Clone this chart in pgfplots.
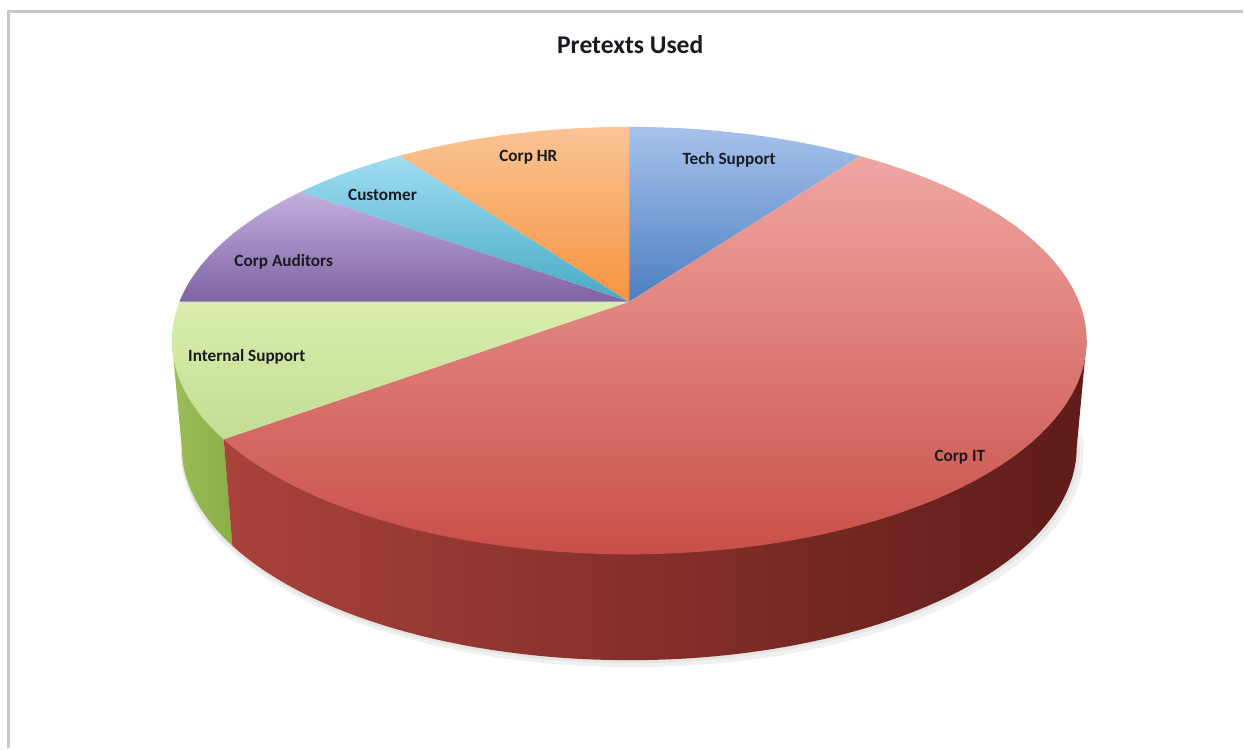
\documentclass[border=0pt]{standalone}
\usepackage{pgfplots}
\pgfplotsset{compat=1.18}
\usepackage{fontspec}
\setmainfont{Carlito}
\definecolor{frame}{HTML}{C8C8C8}
\definecolor{techT}{HTML}{A7C2EC}
\definecolor{techB}{HTML}{4A7FC0}
\definecolor{itT}{HTML}{F0A6A3}
\definecolor{itM}{HTML}{E07D77}
\definecolor{itB}{HTML}{C94F48}
\definecolor{itSL}{HTML}{A9423B}
\definecolor{itSM}{HTML}{7E2926}
\definecolor{itSR}{HTML}{5F1C19}
\definecolor{inT}{HTML}{D9EEAD}
\definecolor{inB}{HTML}{C3DD93}
\definecolor{inSL}{HTML}{9CBD58}
\definecolor{inSR}{HTML}{8BAF47}
\definecolor{auT}{HTML}{C2B0DF}
\definecolor{auB}{HTML}{7F62A2}
\definecolor{cuT}{HTML}{A0DDF1}
\definecolor{cuB}{HTML}{47AAC6}
\definecolor{hrT}{HTML}{FAC495}
\definecolor{hrB}{HTML}{F6943F}
\definecolor{txt}{HTML}{1A1A22}
\begin{document}
\begin{tikzpicture}
\begin{axis}[hide axis, scale only axis, width=622pt, height=374.5pt,
  xmin=0, xmax=1244, ymin=0, ymax=749, y dir=reverse, clip=false]
% background and frame
\addplot[draw=none, fill=white] coordinates {(0,0) (1244,0) (1244,749) (0,749)} -- cycle;
\addplot[draw=frame, line width=1.5pt] coordinates {(9,749) (9,12) (1244,12)};
% soft shadow
\addplot[draw=none, fill=black!6, domain=175:365, samples=80, variable=\t]
  ({633+452*cos(\t)},{453-215*sin(\t)}) -- cycle;
\addplot[draw=none, fill=black!10, domain=178:362, samples=80, variable=\t]
  ({631+450*cos(\t)},{450-214*sin(\t)}) -- cycle;
% side walls (slice boundary angles 207.5 and 360)
\addplot[draw=none, left color=inSL, right color=inSR, domain=180:207.5, samples=20, variable=\t]
  ({630+448*cos(\t)},{448-213*sin(\t)}) -- (224,440) -- (172,341) -- cycle;
\addplot[draw=none, left color=itSL, middle color=itSM, right color=itSR, domain=207.5:360, samples=80, variable=\t]
  ({630+448*cos(\t)},{448-213*sin(\t)}) -- (1088,341) -- (224,440) -- cycle;
% top faces: slice boundaries (parametric angles) 90, 59.7, -152.5, 169.5, 135.9, 120.1
\addplot[draw=none, top color=techT, bottom color=techB, domain=59.7:90, samples=20, variable=\t]
  ({630+458*cos(\t)},{341-214*sin(\t)}) -- (630,302) -- cycle;
\addplot[draw=none, top color=itT, middle color=itM, bottom color=itB, domain=-152.5:59.7, samples=100, variable=\t]
  ({630+458*cos(\t)},{341-214*sin(\t)}) -- (630,302) -- cycle;
\addplot[draw=none, top color=inT, bottom color=inB, domain=169.5:207.5, samples=20, variable=\t]
  ({630+458*cos(\t)},{341-214*sin(\t)}) -- (630,302) -- cycle;
\addplot[draw=none, top color=auT, bottom color=auB, domain=135.9:169.5, samples=20, variable=\t]
  ({630+458*cos(\t)},{341-214*sin(\t)}) -- (630,302) -- cycle;
\addplot[draw=none, top color=cuT, bottom color=cuB, domain=120.1:135.9, samples=12, variable=\t]
  ({630+458*cos(\t)},{341-214*sin(\t)}) -- (630,302) -- cycle;
\addplot[draw=none, top color=hrT, bottom color=hrB, domain=90:120.1, samples=20, variable=\t]
  ({630+458*cos(\t)},{341-214*sin(\t)}) -- (630,302) -- cycle;
% labels
\node[font=\fontsize{12.8}{14}\selectfont\bfseries, text=txt] at (axis cs:631,45) {Pretexts Used};
\begin{scope}[every node/.style={font=\fontsize{8.6}{10}\selectfont\bfseries, text=txt}]
\node at (axis cs:730,160) {Tech Support};
\node at (axis cs:961,458) {Corp IT};
\node at (axis cs:247,357) {Internal Support};
\node at (axis cs:284,262) {Corp Auditors};
\node at (axis cs:383,195) {Customer};
\node at (axis cs:529,157) {Corp HR};
\end{scope}
\end{axis}
\end{tikzpicture}
\end{document}
